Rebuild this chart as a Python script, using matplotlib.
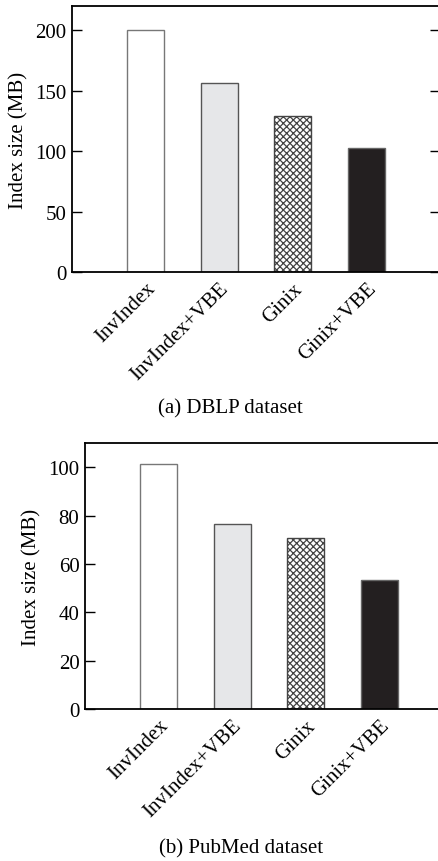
import numpy as np
import matplotlib.pyplot as plt

plt.rcParams['font.family'] = ['Liberation Serif', 'DejaVu Serif']
plt.rcParams['hatch.linewidth'] = 0.9

methods = ["InvIndex", "InvIndex+VBE", "Ginix", "Ginix+VBE"]
dblp_size = [200, 156, 129, 102.5]
pubmed_size = [101.2, 76.3, 70.7, 53.5]

colors = ["white", "#e6e7e9", "white", "#231f20"]
hatches = [None, None, "xxxxx", None]
edges = ["#777777", "#555555", "#444444", "#666666"]

fig = plt.figure(figsize=(4.38, 8.62), dpi=100)
W, H = 438, 862


def draw(rect, values, ylim, yticks, caption, cap_x, cap_y):
    l, t, r, b = rect
    ax = fig.add_axes([l / W, 1 - b / H, (r - l) / W, (b - t) / H])
    x = np.arange(1, len(methods) + 1)
    for i in range(len(methods)):
        ax.bar(x[i], values[i], width=0.5, color=colors[i], hatch=hatches[i],
               edgecolor=edges[i], linewidth=1.0)
    ax.set_xlim(0, 5)
    ax.set_ylim(*ylim)
    ax.set_yticks(yticks)
    ax.set_xticks(x)
    ax.set_xticklabels(methods, rotation=45, ha="right", rotation_mode="anchor")
    ax.tick_params(axis="x", length=0, labelsize=15, pad=5)
    ax.tick_params(axis="y", direction="in", length=7, labelsize=15, right=True,
                   width=1, pad=4)
    ax.set_ylabel("Index size (MB)", fontsize=15, labelpad=5)
    for s in ax.spines.values():
        s.set_linewidth(1.3)
    fig.text(cap_x / W, 1 - cap_y / H, caption, ha="center", va="center", fontsize=15)
    return ax


draw((72, 7, 440, 273), dblp_size, (0, 220), [0, 50, 100, 150, 200],
     "(a) DBLP dataset", 230, 409)
draw((85, 444, 453, 710), pubmed_size, (0, 110), [0, 20, 40, 60, 80, 100],
     "(b) PubMed dataset", 241, 849)

fig.savefig("out.png", dpi=100)
